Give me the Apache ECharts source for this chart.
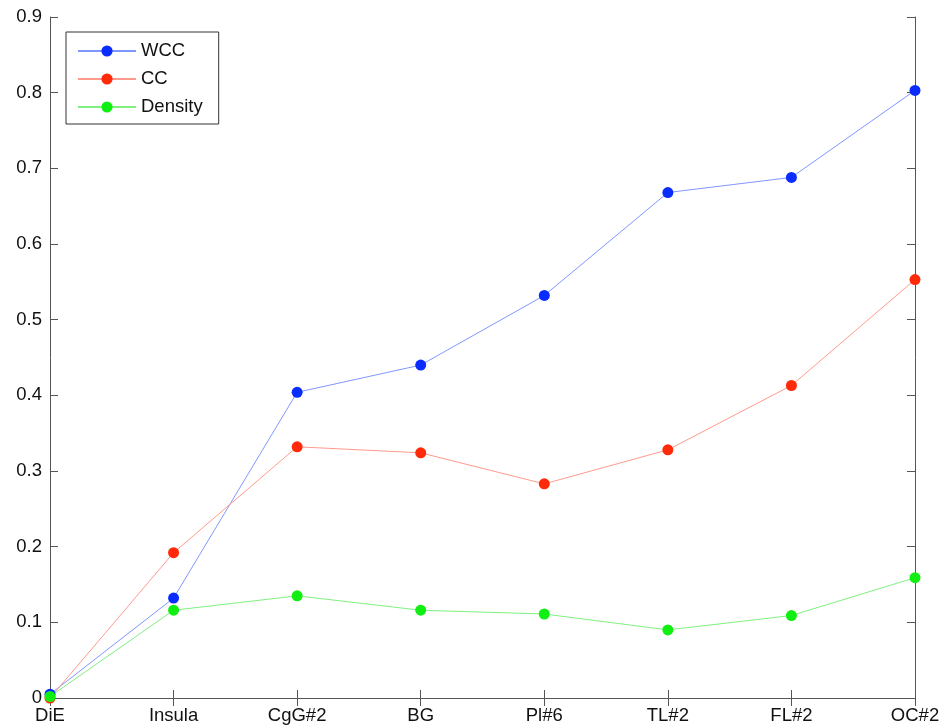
<!DOCTYPE html>
<html>
<head>
<meta charset="utf-8">
<script src="https://cdn.jsdelivr.net/npm/echarts@6/dist/echarts.min.js"></script>
<style>html,body{margin:0;padding:0;background:#fff;}#c{width:951px;height:726px;}</style>
</head>
<body>
<div id="c"></div>
<script>
const categories = ['DiE', 'Insula', 'CgG#2', 'BG', 'Pl#6', 'TL#2', 'FL#2', 'OC#2'];
const wcc = [0.005, 0.132, 0.404, 0.440, 0.532, 0.668, 0.688, 0.803];
const cc = [0.0, 0.192, 0.332, 0.324, 0.283, 0.328, 0.413, 0.553];
const density = [0.002, 0.116, 0.135, 0.116, 0.111, 0.090, 0.109, 0.159];
const yTicks = [0, 0.1, 0.2, 0.3, 0.4, 0.5, 0.6, 0.7, 0.8, 0.9];

const chart = echarts.init(document.getElementById('c'));
const font = 'Liberation Sans, Arial, Helvetica, sans-serif';
const axisColor = '#555';
const fs = 18.5;
function mkSeries(name, data, markerColor, lineColor) {
  return {
    name: name, type: 'line', data: data, symbol: 'circle', symbolSize: 11,
    itemStyle: { color: markerColor },
    lineStyle: { color: lineColor, width: 1 },
    emphasis: { disabled: true }, animation: false
  };
}
chart.setOption({
  animation: false,
  grid: { left: 50, right: 36, top: 17, bottom: 28 },
  legend: {
    orient: 'vertical', left: 66, top: 32,
    itemWidth: 58, itemHeight: 14, itemGap: 8,
    padding: [9, 16, 7, 11],
    borderColor: '#333', borderWidth: 1, backgroundColor: '#fff',
    textStyle: { fontFamily: font, fontSize: fs, color: '#111', lineHeight: 20 },
    data: ['WCC', 'CC', 'Density']
  },
  xAxis: [{
    type: 'category', data: categories, boundaryGap: false,
    axisLine: { lineStyle: { color: axisColor, width: 1 } },
    axisTick: { inside: true, length: 8, lineStyle: { color: axisColor } },
    axisLabel: { fontFamily: font, fontSize: fs, color: '#111', margin: 8 },
    splitLine: { show: false }
  }, {
    type: 'category', data: categories, boundaryGap: false, position: 'top',
    axisLine: { lineStyle: { color: axisColor, width: 1 } },
    axisTick: { inside: true, length: 8, lineStyle: { color: axisColor } },
    axisLabel: { show: false }, splitLine: { show: false }
  }],
  yAxis: [{
    type: 'value', min: 0, max: 0.9, interval: 0.1,
    axisLine: { show: true, lineStyle: { color: axisColor, width: 1 } },
    axisTick: { show: true, inside: true, length: 8, lineStyle: { color: axisColor } },
    axisLabel: { fontFamily: font, fontSize: fs, color: '#111', margin: 8,
      formatter: v => { const t = yTicks.find(x => Math.abs(x - v) < 1e-9); return t === undefined ? '' : String(t); } },
    splitLine: { show: false }
  }, {
    type: 'value', min: 0, max: 0.9, interval: 0.1, position: 'right',
    axisLine: { show: true, lineStyle: { color: axisColor, width: 1 } },
    axisTick: { show: true, inside: true, length: 8, lineStyle: { color: axisColor } },
    axisLabel: { show: false }, splitLine: { show: false }
  }],
  series: [
    mkSeries('WCC', wcc, '#0a2cff', '#8096ff'),
    mkSeries('CC', cc, '#ff2a0a', '#ff9a8c'),
    mkSeries('Density', density, '#11ee11', '#80f080')
  ]
});
</script>
</body>
</html>
